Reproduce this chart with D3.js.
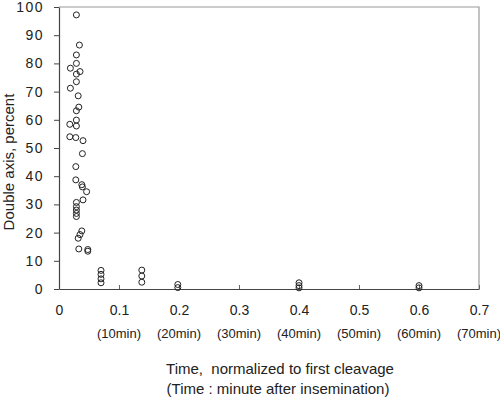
<!DOCTYPE html>
<html>
<head>
<meta charset="utf-8">
<script src="https://cdn.jsdelivr.net/npm/d3@7"></script>
<style>
  body { margin: 0; background: #fff; }
  text { font-family: "Liberation Sans", Arial, sans-serif; fill: #222; }
</style>
</head>
<body>
<div class="my-graph"></div>
<script>
// time, normalized to first cleavage
const timeVals = [
  0.029, 0.034, 0.029, 0.029, 0.019, 0.035, 0.029, 0.029, 0.019, 0.032,
  0.033, 0.029, 0.029, 0.018, 0.029, 0.018, 0.028, 0.040, 0.039, 0.028,
  0.028, 0.038, 0.039, 0.046, 0.040, 0.029, 0.029, 0.029, 0.029, 0.029,
  0.038, 0.035, 0.032, 0.033, 0.048, 0.048,
  0.070, 0.070, 0.070, 0.070,
  0.138, 0.138, 0.138,
  0.198, 0.198,
  0.400, 0.400, 0.400,
  0.600, 0.600
]
// double axis, percent
const pctVals = [
  97.2, 86.5, 83.0, 80.0, 78.3, 77.1, 76.2, 73.5, 71.2, 68.5,
  64.5, 63.2, 59.9, 58.4, 57.8, 54.0, 53.7, 52.6, 48.0, 43.4,
  38.7, 37.0, 36.2, 34.5, 31.6, 30.7, 29.2, 28.0, 26.8, 25.7,
  20.6, 19.3, 18.0, 14.2, 14.0, 13.4,
  6.6, 5.2, 3.6, 2.2,
  6.7, 4.6, 2.4,
  1.6, 0.5,
  2.2, 1.2, 0.4,
  1.2, 0.4
]
const xTicks = [0, 0.1, 0.2, 0.3, 0.4, 0.5, 0.6, 0.7]
const minLabels = ['(10min)', '(20min)', '(30min)', '(40min)', '(50min)', '(60min)', '(70min)']
const yTicks = [0, 10, 20, 30, 40, 50, 60, 70, 80, 90, 100]

const dataset = timeVals.map((t, i) => ({ x: t, y: pctVals[i] }))

const width = 500
const height = 397
const margin = { top: 7, bottom: 108, left: 59, right: 21 }

const xScale = d3.scaleLinear()
  .domain([0, 0.7])
  .range([margin.left, width - margin.right])

const yScale = d3.scaleLinear()
  .domain([0, 100])
  .range([height - margin.bottom, margin.top])

const svg = d3.select('.my-graph')
  .append('svg')
  .attr('width', width)
  .attr('height', height)

// frame top / right
svg.append('path')
  .attr('d', `M${xScale(0)},${yScale(100)}H${xScale(0.7)}V${yScale(0)}`)
  .attr('fill', 'none')
  .attr('stroke', '#999')
  .attr('stroke-width', 1.2)

const xAxis = svg.append('g')
  .attr('transform', `translate(0, ${yScale(0)})`)
  .call(d3.axisBottom(xScale).tickValues(xTicks).tickSizeInner(-4).tickSizeOuter(0)
    .tickPadding(16).tickFormat(d => d === 0 ? '0' : d3.format('.1f')(d)))
xAxis.select('.domain').attr('stroke', '#444').attr('stroke-width', 1.2)
xAxis.selectAll('.tick line').attr('stroke', '#666')
xAxis.selectAll('.tick text')
  .attr('font-size', 14)
  .attr('fill', '#333')
  .attr('font-family', '"Liberation Sans", Arial, sans-serif')

svg.append('g')
  .selectAll('text')
  .data(minLabels)
  .enter().append('text')
  .attr('x', (d, i) => xScale(xTicks[i + 1]))
  .attr('y', yScale(0) + 49)
  .attr('text-anchor', 'middle')
  .attr('font-size', 13)
  .text(d => d)

const yAxis = svg.append('g')
  .attr('transform', `translate(${margin.left}, 0)`)
  .call(d3.axisLeft(yScale).tickValues(yTicks).tickSizeInner(5).tickSizeOuter(0).tickPadding(10))
yAxis.select('.domain').attr('stroke', '#444').attr('stroke-width', 1.2)
yAxis.selectAll('.tick line').attr('stroke', '#444')
yAxis.selectAll('.tick text')
  .attr('font-size', 14)
  .attr('letter-spacing', 1.5)
  .attr('fill', '#333')
  .attr('font-family', '"Liberation Sans", Arial, sans-serif')

svg.append('text')
  .attr('transform', 'translate(14, 162) rotate(-90)')
  .attr('text-anchor', 'middle')
  .attr('font-size', 15)
  .text('Double axis, percent')

svg.append('text')
  .attr('x', 280)
  .attr('y', 374)
  .attr('text-anchor', 'middle')
  .attr('font-size', 15)
  .style('white-space', 'pre')
  .text('Time,  normalized to first cleavage')

svg.append('text')
  .attr('x', 278)
  .attr('y', 394)
  .attr('text-anchor', 'middle')
  .attr('font-size', 15)
  .text('(Time : minute after insemination)')

svg.selectAll('.dot')
  .data(dataset)
  .enter().append('circle')
  .attr('class', 'dot')
  .attr('cx', d => xScale(d.x))
  .attr('cy', d => yScale(d.y))
  .attr('r', 3)
  .attr('fill', 'none')
  .attr('stroke', '#222')
  .attr('stroke-width', 1)
</script>
</body>
</html>
